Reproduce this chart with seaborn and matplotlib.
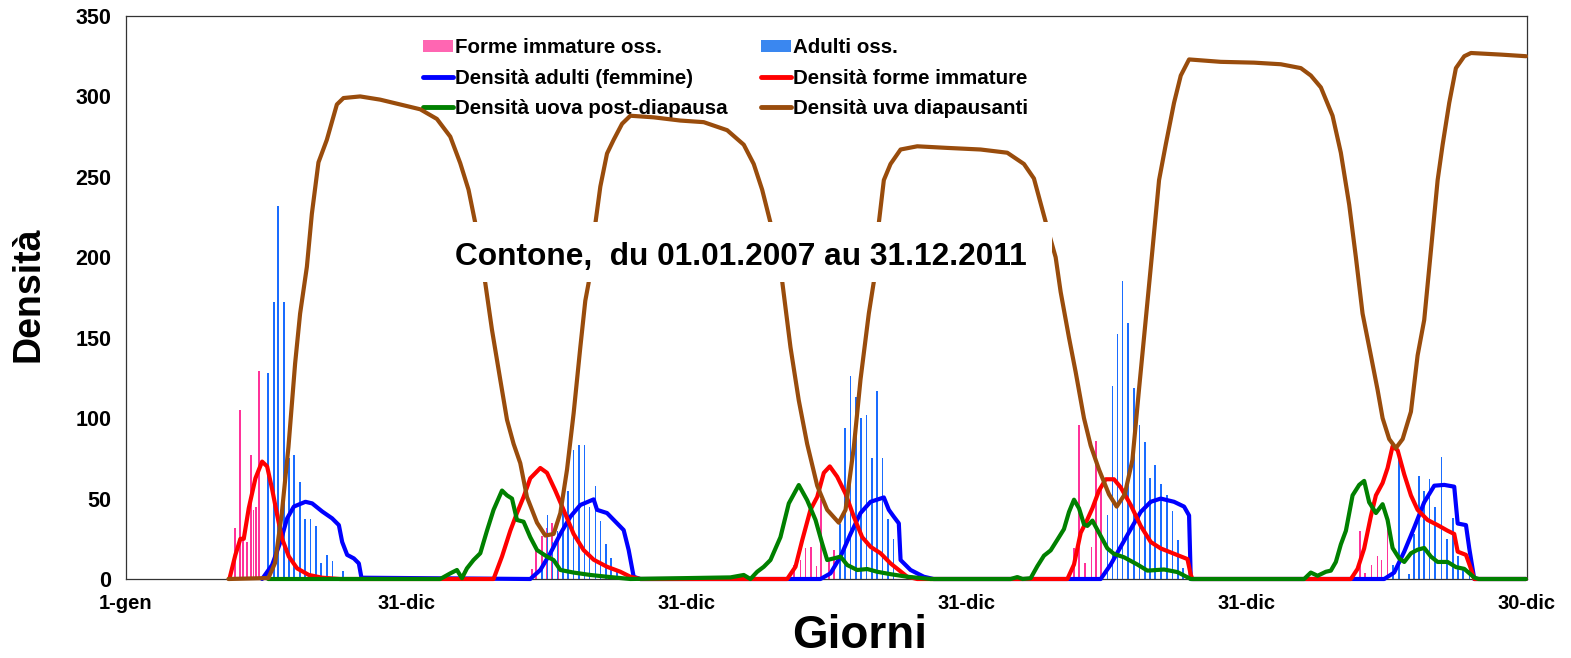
import matplotlib
matplotlib.use("Agg")
import matplotlib.pyplot as plt
import seaborn as sns
import pandas as pd
from matplotlib.patches import Patch, Rectangle
from matplotlib.lines import Line2D
from matplotlib.ticker import MultipleLocator

# ---------------- data (x = day index from 1 Jan 2007) ----------------
x_tick_pos = [0, 365, 730, 1095, 1460, 1825]
x_tick_labels = ["1-gen", "31-dic", "31-dic", "31-dic", "31-dic", "30-dic"]

imm_obs_day = [136.0, 141.7, 148.6, 152.5, 157.7, 162.6, 166.0, 169.5, 173.0,
               528.9, 534.5, 541.9, 548.4, 555.0, 562.8,
               869.9, 878.6, 885.1, 892.6, 899.5, 905.6, 915.5, 922.0,
               1234.5, 1241.4, 1249.2, 1257.6, 1263.6, 1269.7,
               1607.7, 1613.9, 1622.6, 1630.4, 1635.6, 1643.4]
imm_obs_val = [5, 32, 105, 24, 23, 77, 43, 45, 129,
               6, 20, 27, 32, 35, 28,
               9, 12, 19, 20, 8, 50, 13, 18,
               19, 96, 10, 20, 86, 58,
               30, 4, 9, 14, 12, 32]

adu_obs_day = [185.1, 192.9, 198.1, 205.6, 212.1, 219.0, 226.4, 232.9, 240.2, 247.3, 254.2, 262.0, 268.9, 282.5,
               541.9, 549.2, 555.7, 562.2, 569.6, 576.2, 583.1, 590.5, 597.4, 603.9, 611.4, 618.3, 625.7, 632.2, 639.6,
               929.8, 936.3, 943.8, 950.7, 957.7, 964.6, 971.5, 978.6, 985.5, 992.9, 999.8,
               1278.4, 1284.9, 1291.4, 1297.9, 1304.9, 1312.7, 1320.1, 1327.0, 1333.6, 1340.7, 1347.9, 1355.7, 1363.1, 1370.0, 1377.2,
               1650.6, 1658.0, 1671.1, 1677.6, 1684.1, 1691.1, 1698.1, 1705.5, 1713.6, 1720.7, 1728.2, 1735.5, 1742.0, 1750.1]
adu_obs_val = [128, 172, 232, 172, 75, 77, 60, 37, 37, 33, 10, 15, 11, 5,
               9, 40, 23, 30, 45, 55, 80, 83, 83, 45, 58, 36, 22, 13, 6,
               34, 94, 126, 113, 100, 102, 75, 117, 75, 37, 25,
               40, 120, 152, 185, 159, 119, 96, 85, 63, 71, 59, 52, 42, 24, 7,
               9, 78, 3, 28, 64, 55, 62, 45, 76, 25, 38, 14, 7, 7]

adult_density = [(177.3, 0), (190.3, 8.7), (201.1, 23), (209.9, 37.7), (218.6, 45), (233.7, 48), (242.5, 47),
                 (255.5, 42), (268.5, 37.7), (277.3, 33.5), (281.6, 23), (288.1, 15), (296.8, 12.8), (303.3, 9.7),
                 (306.7, 0.8), (526.6, 0), (539.7, 5.6), (552.7, 16), (565.8, 28), (578.8, 38.7), (591.8, 46),
                 (609.2, 49.5), (613.6, 43), (626.6, 41), (639.7, 34.6), (648.3, 30.4), (654.8, 18), (661.3, 1.4),
                 (670.0, 0), (904.7, 0), (917.7, 3.5), (930.8, 14), (943.8, 28), (956.8, 41), (969.9, 48),
                 (987.2, 50.7), (993.7, 43), (1000.2, 38.7), (1006.7, 34.6), (1009.0, 11.8), (1022.0, 5.6),
                 (1039.3, 1.4), (1052.0, 0), (1269.7, 0), (1282.7, 9), (1295.7, 20), (1308.8, 31), (1321.8, 41.7),
                 (1334.9, 48), (1347.9, 50), (1365.2, 48), (1378.3, 45), (1384.8, 39.5), (1387.0, 0), (1639.0, 0),
                 (1652.0, 4), (1665.1, 17), (1678.1, 32), (1691.1, 47.7), (1704.2, 58), (1717.2, 58.5),
                 (1730.2, 57.4), (1734.7, 34.5), (1745.5, 33.5), (1749.8, 19), (1756.3, 0), (1823.7, 0)]

immature_density = [(134.7, 0), (142.5, 15), (149.0, 25), (153.4, 25), (159.9, 44), (168.6, 62.6), (177.3, 73),
                     (183.8, 70), (190.3, 56), (196.8, 40), (203.4, 25), (212.1, 14), (222.9, 6.6), (238.2, 2.5),
                     (255.5, 0.8), (279.0, 0), (478.8, 0), (489.8, 14), (500.6, 30), (509.3, 41), (517.9, 51),
                     (526.6, 62.6), (539.7, 69), (548.4, 66), (559.2, 55), (570.0, 43), (583.1, 28), (596.1, 18),
                     (609.2, 12), (626.6, 7.6), (644.0, 4.5), (657.0, 1.4), (670.0, 0), (861.3, 0), (872.1, 7.6),
                     (880.8, 24), (891.6, 43), (900.4, 51), (909.0, 66), (916.8, 70), (926.4, 63.6), (937.3, 53),
                     (948.1, 38.7), (959.0, 26), (969.9, 20), (982.9, 16), (995.9, 9.7), (1006.7, 5.6),
                     (1017.7, 1.4), (1030.7, 0), (1226.3, 0), (1234.9, 9), (1243.6, 28.7), (1252.3, 37),
                     (1258.9, 44), (1267.5, 55), (1276.2, 62), (1287.0, 62), (1295.7, 57), (1308.8, 46),
                     (1321.8, 33), (1334.9, 23), (1347.9, 19), (1365.2, 15.7), (1382.7, 12.4), (1387.0, 2.6),
                     (1389.2, 0), (1595.6, 0), (1604.3, 6.3), (1612.9, 19), (1621.6, 39), (1628.2, 52),
                     (1636.9, 59.7), (1643.4, 69), (1649.9, 82.5), (1656.5, 80), (1665.1, 65), (1673.8, 52),
                     (1682.5, 43), (1695.5, 36.7), (1708.6, 33.5), (1721.6, 30), (1730.2, 28), (1734.7, 17),
                     (1745.5, 15), (1752.0, 6.3), (1756.3, 0), (1823.7, 0)]

egg_post_density = [(185.1, 0), (409.3, 0), (422.4, 3.5), (431.1, 5.6), (437.6, 0.5), (444.1, 6.6), (452.7, 11.8),
                    (461.5, 16), (470.2, 30), (478.8, 43), (489.8, 55), (496.3, 52), (502.8, 50), (509.3, 36.7),
                    (517.9, 35.6), (526.6, 26), (535.4, 18), (548.4, 13.9), (557.0, 11.8), (565.8, 5.6),
                    (583.1, 4), (604.9, 2.5), (626.6, 1.4), (657.0, 0), (787.4, 1), (804.7, 2.5), (813.4, 0),
                    (822.2, 4.5), (830.8, 7.6), (839.5, 11.8), (852.5, 26), (863.4, 47), (876.4, 58.4),
                    (887.3, 49), (898.2, 36.7), (906.9, 22), (913.4, 11.8), (922.0, 12.8), (930.8, 13.9),
                    (939.5, 8.7), (952.5, 5.6), (965.5, 6.2), (978.6, 4.5), (995.9, 3), (1017.7, 1.4),
                    (1048.1, 0), (1152.4, 0), (1161.1, 1.2), (1168.0, 0), (1178.4, 0.5), (1187.2, 8),
                    (1195.8, 14.5), (1204.5, 17.8), (1213.2, 24.4), (1221.8, 31), (1228.4, 41.7), (1234.9, 49.3),
                    (1241.4, 44), (1247.9, 34), (1252.3, 33), (1258.9, 36.3), (1267.5, 28.7), (1278.4, 19),
                    (1287.0, 15.6), (1300.1, 13.5), (1317.5, 9), (1330.5, 5.2), (1352.2, 5.9), (1369.7, 4.3),
                    (1387.0, 0), (1534.7, 0), (1543.4, 4), (1552.2, 2), (1563.0, 4.5), (1569.5, 5.2),
                    (1576.0, 10.6), (1582.5, 21.5), (1589.1, 30), (1597.8, 52), (1606.4, 58.5), (1612.9, 61),
                    (1619.4, 47.7), (1628.2, 41), (1636.9, 46.5), (1643.4, 36.7), (1649.9, 19.3), (1658.5, 12.8),
                    (1665.1, 10.6), (1673.8, 16), (1682.5, 18.2), (1691.1, 19.3), (1699.9, 13.9), (1708.6, 10.6),
                    (1721.6, 10.6), (1732.4, 7.4), (1743.3, 6.3), (1756.3, 0.9), (1762.0, 0), (1823.7, 0)]

egg_diap_density = [(133.4, 0), (185.5, 0.6), (194.2, 10), (203.0, 41), (211.6, 82), (220.3, 134), (226.8, 165),
                    (235.6, 194), (242.1, 227), (250.7, 259), (261.6, 273), (274.7, 295), (283.3, 299),
                    (305.0, 300), (331.1, 298), (357.2, 295), (383.3, 292), (405.0, 286), (422.4, 275),
                    (435.4, 258.5), (446.2, 242), (454.9, 221.5), (468.0, 184), (476.7, 155), (487.5, 124),
                    (496.3, 99), (504.9, 84), (513.6, 72), (522.3, 51), (535.4, 35), (546.2, 27), (557.0, 28),
                    (565.8, 41), (574.5, 68), (583.1, 103), (591.8, 144), (598.3, 173), (602.6, 184),
                    (611.4, 221), (617.9, 244), (626.6, 264.5), (635.2, 273), (646.2, 283), (657.0, 288),
                    (687.4, 287), (722.2, 285), (752.6, 284), (783.1, 279), (804.7, 270), (817.7, 258),
                    (828.7, 242), (839.5, 221.5), (854.8, 185), (865.6, 144), (876.4, 111), (887.3, 84),
                    (900.4, 58), (913.4, 43), (928.5, 35), (937.3, 43), (948.1, 82), (956.8, 124), (967.6, 165),
                    (974.2, 185), (980.7, 221.5), (987.2, 248), (995.9, 258), (1009.0, 267), (1030.7, 269),
                    (1069.8, 268), (1113.3, 267), (1148.0, 265), (1169.7, 258), (1182.7, 249), (1198.0, 222),
                    (1211.0, 200), (1217.5, 178.5), (1228.4, 150), (1237.1, 128.6), (1247.9, 100), (1256.6, 83),
                    (1267.5, 68), (1280.5, 52.6), (1290.5, 45), (1301.0, 52.6), (1311.0, 74), (1319.6, 118),
                    (1328.3, 161), (1337.1, 204.7), (1345.7, 248), (1354.4, 270), (1365.2, 296), (1374.0, 313),
                    (1384.8, 323), (1426.1, 321.5), (1469.5, 321), (1504.3, 320), (1530.4, 317.6), (1543.4, 313),
                    (1556.5, 305.6), (1571.7, 288), (1582.5, 265), (1593.4, 232.7), (1602.1, 200), (1610.8, 165),
                    (1621.6, 139), (1630.4, 117.5), (1636.9, 100), (1645.5, 87), (1654.2, 81.4), (1663.0, 87),
                    (1673.8, 104), (1682.5, 139), (1691.1, 161), (1699.9, 204.5), (1708.6, 248), (1715.1, 270),
                    (1723.7, 296), (1732.4, 317.6), (1743.3, 325), (1752.0, 327), (1791.1, 326), (1823.7, 325)]

labels = ["Forme immature oss.", "Adulti oss.", "Densità adulti (femmine)",
          "Densità forme immature", "Densità uova post-diapausa", "Densità uva diapausanti"]
title_text = "Contone,  du 01.01.2007 au 31.12.2011"

# ---------------- style ----------------
sns.set_style("white")
plt.rcParams["font.family"] = ["Liberation Sans", "DejaVu Sans"]
plt.rcParams["font.weight"] = "bold"
plt.rcParams["text.color"] = "black"
plt.rcParams["axes.labelcolor"] = "black"
plt.rcParams["xtick.color"] = "black"
plt.rcParams["ytick.color"] = "black"

PINK = "#FF3399"
PINK_LEG = "#FF66B2"
LBLUE = "#1A6CFF"
LBLUE_LEG = "#3A87F0"
BLUE = "#0000FF"
RED = "#FF0000"
GREEN = "#008000"
BROWN = "#994C0C"

W, H = 1571, 658
fig = plt.figure(figsize=(W / 100, H / 100), dpi=100)
L, R, T, B = 126, 1527, 16, 579
ax = fig.add_axes([L / W, 1 - B / H, (R - L) / W, (B - T) / H])

# bars
ax.bar(imm_obs_day, imm_obs_val, width=2.2, color=PINK, linewidth=0, zorder=2)
ax.bar(adu_obs_day, adu_obs_val, width=2.2, color=LBLUE, linewidth=0, zorder=2)

def draw(series, color, z):
    df = pd.DataFrame(series, columns=["day", "value"])
    sns.lineplot(data=df, x="day", y="value", ax=ax, color=color, linewidth=3.0,
                 sort=False, estimator=None, zorder=z, clip_on=False)

draw(adult_density, BLUE, 3)
draw(immature_density, RED, 4)
draw(egg_post_density, GREEN, 5)
draw(egg_diap_density, BROWN, 6)

ax.set_xlim(0, 1825)
ax.set_ylim(0, 350)
ax.set_xticks(x_tick_pos)
ax.set_xticklabels(x_tick_labels)
ax.xaxis.set_minor_locator(MultipleLocator(73))
ax.set_yticks(range(0, 351, 50))
ax.tick_params(axis="both", which="both", direction="out", length=4.5, width=0.9,
               color="#222222", labelsize=14.5, pad=6)
ax.tick_params(axis="y", labelsize=15.5)
for lab in ax.get_xticklabels() + ax.get_yticklabels():
    lab.set_fontweight("bold")
for sp in ax.spines.values():
    sp.set_color("#333333")
    sp.set_linewidth(0.9)

ax.set_xlabel("Giorni", fontsize=33, fontweight="bold")
ax.set_ylabel("Densità", fontsize=27, fontweight="bold")
ax.xaxis.label.set_va("center")
ax.xaxis.set_label_coords((860 - L) / (R - L), (B - 636) / (B - T))
ax.yaxis.label.set_va("center")
ax.yaxis.set_label_coords((29 - L) / (R - L), (B - 294) / (B - T))

# title with white box
ax.add_patch(Rectangle(((440 - L) / (R - L), (B - 282) / (B - T)), (1052 - 440) / (R - L), 60 / (B - T),
                       transform=ax.transAxes, facecolor="white", edgecolor="none", zorder=9))
ax.text(800.4, 195.2, title_text, fontsize=22.8, fontweight="bold", ha="center", va="baseline",
        zorder=10)

handles = [Patch(facecolor=PINK_LEG, edgecolor="none"),
           Line2D([], [], color=BLUE, lw=3.5),
           Line2D([], [], color=GREEN, lw=3.5),
           Patch(facecolor=LBLUE_LEG, edgecolor="none"),
           Line2D([], [], color=RED, lw=3.5),
           Line2D([], [], color=BROWN, lw=3.5)]
leg_labels = [labels[0], labels[2], labels[4], labels[1], labels[3], labels[5]]
leg = ax.legend(handles, leg_labels, ncol=2, loc="upper left",
                bbox_to_anchor=(423 / W, 1 - 38 / H), bbox_transform=fig.transFigure,
                frameon=False, fontsize=14.8, handlelength=1.46, handleheight=0.55,
                handletextpad=0.1, columnspacing=1.6, labelspacing=0.56, borderpad=0,
                borderaxespad=0)
for t in leg.get_texts():
    t.set_fontweight("bold")

fig.savefig("out.png", dpi=100)
